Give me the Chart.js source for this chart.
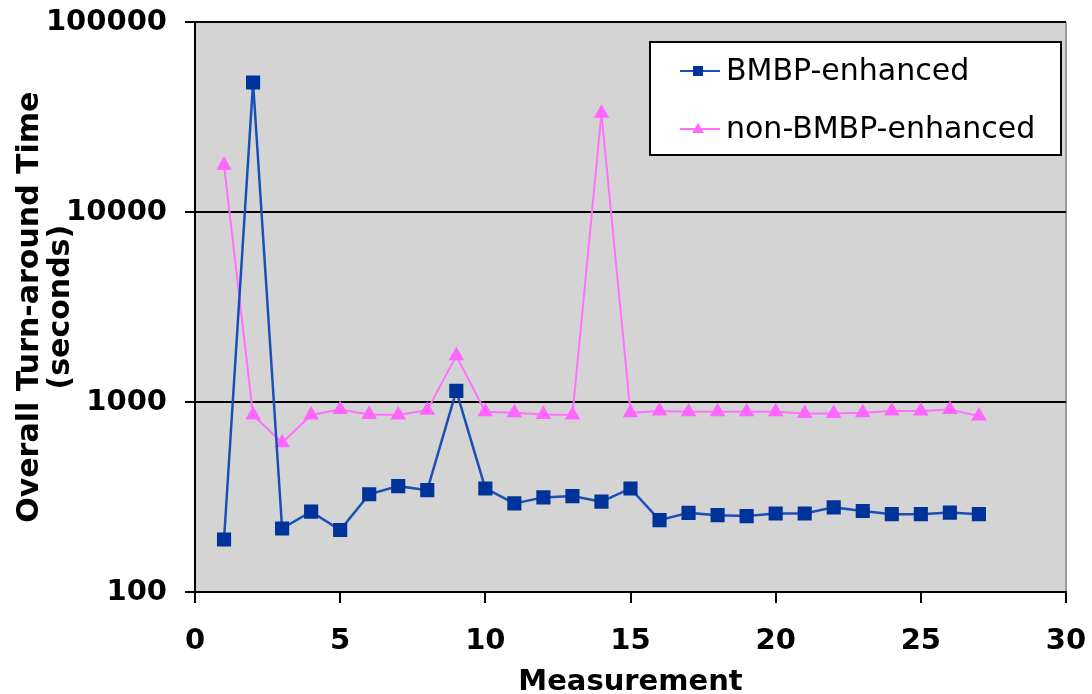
<!DOCTYPE html>
<html>
<head>
<meta charset="utf-8">
<script src="https://cdn.jsdelivr.net/npm/chart.js@4.4.0/dist/chart.umd.min.js"></script>
<style>
html,body{margin:0;padding:0;background:#fff;}
#wrap{width:1092px;height:694px;position:relative;}
</style>
</head>
<body>
<div id="wrap"><canvas id="c" width="1092" height="694"></canvas></div>
<script>
const measurements = [1,2,3,4,5,6,7,8,9,10,11,12,13,14,15,16,17,18,19,20,21,22,23,24,25,26,27];
const bmbpEnhanced = [189,48200,216,265,212,327,361,344,1147,351,293,315,320,299,351,239,261,254,251,259,259,279,267,257,257,262,257];
const nonBmbpEnhanced = [17700,855,611,855,915,860,855,907,1752,889,878,861,855,33200,878,897,889,889,889,889,872,872,878,897,897,915,844];
const yTickValues = [100,1000,10000,100000];
const seriesNames = ['BMBP-enhanced','non-BMBP-enhanced'];

const FONT = "'DejaVu Sans', Verdana, sans-serif";

const bgPlugin = {
  id: 'bg',
  beforeDraw(chart) {
    const {ctx, chartArea: a} = chart;
    ctx.save();
    ctx.fillStyle = '#d4d4d4';
    ctx.fillRect(a.left, a.top, a.right - a.left, a.bottom - a.top);
    ctx.strokeStyle = '#9a9a9a';
    ctx.lineWidth = 2;
    ctx.beginPath();
    ctx.moveTo(a.right, a.top);
    ctx.lineTo(a.right, a.bottom);
    ctx.stroke();
    ctx.restore();
  }
};

const legendPlugin = {
  id: 'boxLegend',
  afterDraw(chart) {
    const ctx = chart.ctx;
    const x0 = 650, y0 = 42, w = 411, h = 113;
    ctx.save();
    ctx.fillStyle = '#ffffff';
    ctx.fillRect(x0, y0, w, h);
    ctx.strokeStyle = '#000';
    ctx.lineWidth = 2;
    ctx.strokeRect(x0, y0, w, h);
    const rows = [71, 129];
    chart.data.datasets.forEach((ds, i) => {
      const y = rows[i];
      ctx.strokeStyle = ds.borderColor;
      ctx.lineWidth = 2;
      ctx.beginPath();
      ctx.moveTo(680, y);
      ctx.lineTo(720, y);
      ctx.stroke();
      ctx.fillStyle = ds.pointBackgroundColor;
      if (ds.pointStyle === 'rect') {
        ctx.fillRect(693, y - 5, 10, 10);
      } else {
        ctx.beginPath();
        ctx.moveTo(698, y - 6);
        ctx.lineTo(704, y + 4);
        ctx.lineTo(692, y + 4);
        ctx.closePath();
        ctx.fill();
      }
      ctx.fillStyle = '#000';
      ctx.font = '30px ' + FONT;
      ctx.textBaseline = 'middle';
      ctx.textAlign = 'left';
      ctx.fillText(ds.label, 726, y + 1);
    });
    ctx.restore();
  }
};

new Chart(document.getElementById('c'), {
  type: 'line',
  data: {
    labels: measurements,
    datasets: [
      {
        label: seriesNames[0],
        data: measurements.map((m, i) => ({x: m, y: bmbpEnhanced[i]})),
        borderColor: '#1a4fb5',
        backgroundColor: '#003399',
        pointBackgroundColor: '#003399',
        pointBorderColor: '#003399',
        pointStyle: 'rect',
        pointRadius: 10,
        pointBorderWidth: 0,
        borderWidth: 2.5,
        tension: 0
      },
      {
        label: seriesNames[1],
        data: measurements.map((m, i) => ({x: m, y: nonBmbpEnhanced[i]})),
        borderColor: '#ff70ff',
        backgroundColor: '#ff66ff',
        pointBackgroundColor: '#ff66ff',
        pointBorderColor: '#ff66ff',
        pointStyle: 'triangle',
        pointRadius: 9,
        pointBorderWidth: 0,
        borderWidth: 2,
        tension: 0
      }
    ]
  },
  options: {
    responsive: false,
    animation: false,
    devicePixelRatio: 1,
    layout: {padding: {top: 22, right: 26, left: 0, bottom: 0}},
    plugins: {legend: {display: false}, tooltip: {enabled: false}},
    scales: {
      x: {
        type: 'linear',
        min: 0, max: 30,
        ticks: {stepSize: 5, maxRotation: 0, color: '#000', font: {family: FONT, size: 29, weight: 'bold', lineHeight: 2.37}, padding: 4},
        grid: {display: true, drawOnChartArea: false, drawTicks: true, tickLength: 11, color: '#000', lineWidth: 2},
        border: {display: true, color: '#000', width: 2},
        title: {display: true, text: 'Measurement', color: '#000', font: {family: FONT, size: 29, weight: 'bold'}, padding: {top: 0, bottom: -6}},
        afterFit(scale) { scale.height = 102; }
      },
      y: {
        type: 'logarithmic',
        min: 100, max: 100000,
        afterBuildTicks(scale) { scale.ticks = yTickValues.map(v => ({value: v})); },
        ticks: {
          color: '#000', font: {family: FONT, size: 29, weight: 'bold', lineHeight: 0.3}, padding: 18,
          callback: (v) => String(v)
        },
        grid: {color: '#000', lineWidth: 2, drawTicks: true, tickLength: 10},
        border: {display: true, color: '#000', width: 2},
        title: {display: true, text: ['Overall Turn-around Time', '(seconds)'], color: '#000', font: {family: FONT, size: 30, weight: 'bold', lineHeight: 1.05}, padding: {top: 14, bottom: 0}},
        afterFit(scale) { scale.width = 195; }
      }
    }
  },
  plugins: [bgPlugin, legendPlugin]
});
</script>
</body>
</html>
